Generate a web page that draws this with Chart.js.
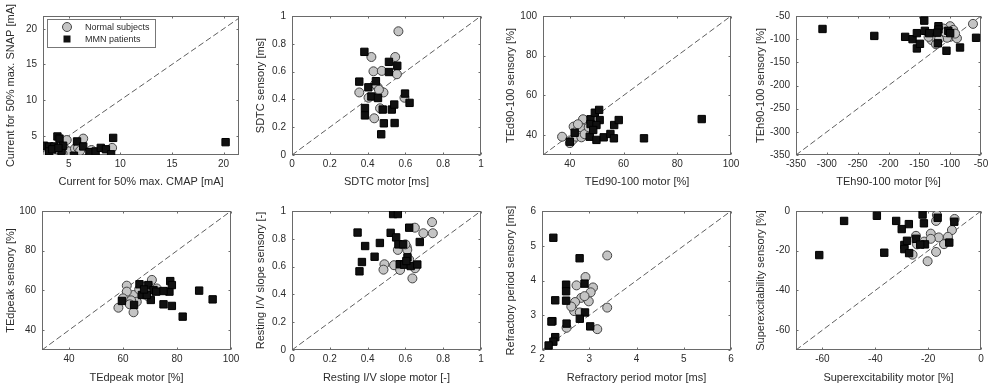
<!DOCTYPE html>
<html>
<head>
<meta charset="utf-8">
<script src="https://cdn.jsdelivr.net/npm/chart.js@4.4.1/dist/chart.umd.min.js"></script>
<style>
  html, body { margin: 0; padding: 0; background: #fff; }
  #fig { position: relative; width: 999px; height: 391px; overflow: hidden; }
  #fig canvas { position: absolute; }
</style>
</head>
<body>
<div id="fig"></div>
<script>
// --- data: [motor, sensory] pairs ---
const seriesNames = ['Normal subjects', 'MMN patients']

const currentNormal = [[2.9,2.4],[3.2,2.35],[3.5,2.6],[4.2,2.8],[4.8,4.4],[4.6,3.2],[5.0,2.8],[5.6,3.2],[5.9,3.3],[6.4,4.6],[6.1,2.9],[7.2,3.0],[9.2,3.3],[3.8,3.1],[4.4,2.5]]
const currentMmn = [[2.6,3.6],[3.9,4.9],[4.1,4.6],[3.1,3.5],[3.6,3.5],[4.3,2.9],[4.45,3.6],[3.1,2.8],[3.4,3.1],[5.5,2.2],[5.8,4.2],[6.4,3.5],[7.0,2.7],[7.6,2.8],[8.1,3.3],[8.6,3.1],[9.1,2.4],[9.3,4.7],[20.2,4.1],[4.0,3.3]]

const sdtcNormal = [[0.563,0.89],[0.42,0.705],[0.546,0.705],[0.431,0.602],[0.475,0.605],[0.555,0.581],[0.356,0.45],[0.454,0.486],[0.484,0.45],[0.405,0.412],[0.595,0.412],[0.466,0.336],[0.435,0.264],[0.44,0.51],[0.46,0.47]]
const sdtcMmn = [[0.383,0.742],[0.513,0.67],[0.557,0.642],[0.513,0.597],[0.356,0.528],[0.444,0.531],[0.404,0.487],[0.42,0.421],[0.455,0.41],[0.386,0.338],[0.386,0.285],[0.48,0.327],[0.528,0.327],[0.541,0.363],[0.598,0.442],[0.622,0.375],[0.486,0.228],[0.543,0.23],[0.472,0.149]]

const ted90Normal = [[37.1,39.2],[40,36],[41,37.6],[41.4,44.3],[42.7,42.3],[42.4,39.2],[43.7,41.2],[44.3,38.9],[45.9,45.9],[44.9,48],[46.5,42],[44,44],[45.5,40.5],[43,45.5],[47,44]]
const ted90Mmn = [[40,36.7],[41.8,41.2],[47.7,48],[47.7,45.6],[49.3,51.3],[50.9,52.7],[51.1,47.6],[49.9,45.1],[47.4,39.2],[49.9,37.6],[52.6,38.9],[55.1,40.6],[56.4,38.4],[56.5,45.1],[58.2,47.6],[67.6,38.4],[89.1,48.1],[48.7,42.6]]

const teh90Normal = [[-63,-67],[-100,-72],[-111,-77],[-95,-80],[-113,-87],[-130,-102],[-123,-111],[-100,-95],[-89,-98],[-105,-97],[-124,-95],[-118,-100],[-108,-85],[-135,-95],[-92,-88]]
const teh90Mmn = [[-307,-78],[-223,-93],[-173,-95],[-161,-100],[-154,-120],[-142,-60],[-154,-87],[-141,-82],[-134,-87],[-119,-72],[-119,-79],[-121,-86],[-120,-109],[-149,-110],[-103,-82],[-100,-87],[-106,-125],[-84,-118],[-58,-97]]

const tedPeakNormal = [[61.4,62.4],[58.3,51.3],[63.9,49],[63.9,57.7],[61.4,59.4],[70.7,65.3],[67.6,59.4],[69.4,56.9],[65.1,54.3],[72.5,61],[60,56],[66,60.5],[63,55],[68.5,62],[62.5,53]]
const tedPeakMmn = [[59.6,54.7],[64.1,52.7],[66.1,63.1],[69.4,62.7],[71.3,60.2],[70.3,55.2],[67,57.7],[68.8,57.7],[72.3,59.4],[75,53],[77.2,59.4],[77.5,64.7],[78.1,62.7],[75,59.7],[78.1,52.2],[82.1,46.8],[88.2,59.9],[93.2,55.5],[67.8,60.5]]

const ivSlopeNormal = [[0.741,0.92],[0.65,0.88],[0.695,0.84],[0.745,0.84],[0.607,0.74],[0.56,0.72],[0.61,0.72],[0.54,0.61],[0.489,0.617],[0.484,0.578],[0.572,0.576],[0.637,0.515],[0.651,0.588],[0.6,0.76],[0.62,0.65]]
const ivSlopeMmn = [[0.535,0.978],[0.56,0.978],[0.347,0.845],[0.522,0.843],[0.62,0.88],[0.551,0.81],[0.387,0.748],[0.465,0.77],[0.563,0.76],[0.588,0.76],[0.676,0.777],[0.437,0.671],[0.611,0.667],[0.37,0.633],[0.357,0.566],[0.57,0.617],[0.593,0.614],[0.628,0.604],[0.663,0.615],[0.605,0.64]]

const refractNormal = [[3.38,4.72],[2.92,4.1],[2.73,3.86],[3.08,3.8],[3.03,3.66],[2.83,3.5],[2.7,3.38],[2.99,3.4],[2.68,3.12],[2.8,3.08],[3.38,3.22],[2.52,2.64],[3.17,2.6],[2.9,3.55],[2.62,3.25]]
const refractMmn = [[2.24,5.23],[2.796,4.64],[2.51,3.88],[2.51,3.69],[2.9,3.91],[2.28,3.43],[2.51,3.42],[2.91,3.08],[2.8,2.9],[2.22,2.83],[2.52,2.76],[3.02,2.68],[2.28,2.37],[2.24,2.24],[2.14,2.13],[2.2,2.82]]

const superNormal = [[-16.7,-2],[-17,-5],[-10,-4],[-11,-9.6],[-19,-11.4],[-24.6,-12.5],[-16,-13.3],[-24.2,-16.8],[-14,-16.7],[-17,-20.6],[-20.2,-25.3],[-25.9,-22],[-21.5,-15.4],[-19,-14],[-12.5,-13]]
const superMmn = [[-51.8,-5],[-39.4,-2.4],[-32.1,-5],[-27.3,-6.6],[-30,-9.1],[-22.1,-1.8],[-21.6,-6.2],[-16.4,-3.4],[-10.1,-5.4],[-61.2,-22.2],[-36.6,-21],[-29,-17.1],[-29,-19.2],[-27.2,-21.2],[-24.6,-14],[-21.2,-16.8],[-23,-16.9],[-12,-15.9],[-28,-15]]

// axis limits and tick labels
const currentXRange = [2.5, 21.5], currentYRange = [2.3, 21.8], currentTicks = [5, 10, 15, 20]
const unitRange = [0, 1], unitTicks = [0, 0.2, 0.4, 0.6, 0.8, 1]
const pctRange = [30, 100], pctTicks = [40, 60, 80, 100]
const tehRange = [-350, -50], tehTicks = [-350, -300, -250, -200, -150, -100, -50]
const refractRange = [2, 6], refractTicks = [2, 3, 4, 5, 6]
const superRange = [-70, 0], superTicks = [-60, -40, -20, 0]

const panels = [
  { normal: currentNormal, mmn: currentMmn, xr: currentXRange, yr: currentYRange, xt: currentTicks, yt: currentTicks,
    xTitle: 'Current for 50% max. CMAP [mA]', yTitle: 'Current for 50% max. SNAP [mA]', legend: true },
  { normal: sdtcNormal, mmn: sdtcMmn, xr: unitRange, yr: unitRange, xt: unitTicks, yt: unitTicks,
    xTitle: 'SDTC motor [ms]', yTitle: 'SDTC sensory [ms]' },
  { normal: ted90Normal, mmn: ted90Mmn, xr: pctRange, yr: pctRange, xt: pctTicks, yt: pctTicks,
    xTitle: 'TEd90-100 motor [%]', yTitle: 'TEd90-100 sensory [%]' },
  { normal: teh90Normal, mmn: teh90Mmn, xr: tehRange, yr: tehRange, xt: tehTicks, yt: tehTicks,
    xTitle: 'TEh90-100 motor [%]', yTitle: 'TEh90-100 sensory [%]' },
  { normal: tedPeakNormal, mmn: tedPeakMmn, xr: pctRange, yr: pctRange, xt: pctTicks, yt: pctTicks,
    xTitle: 'TEdpeak motor [%]', yTitle: 'TEdpeak sensory [%]' },
  { normal: ivSlopeNormal, mmn: ivSlopeMmn, xr: unitRange, yr: unitRange, xt: unitTicks, yt: unitTicks,
    xTitle: 'Resting I/V slope motor [-]', yTitle: 'Resting I/V slope sensory [-]' },
  { normal: refractNormal, mmn: refractMmn, xr: refractRange, yr: refractRange, xt: refractTicks, yt: refractTicks,
    xTitle: 'Refractory period motor [ms]', yTitle: 'Refractory period sensory [ms]' },
  { normal: superNormal, mmn: superMmn, xr: superRange, yr: superRange, xt: superTicks, yt: superTicks,
    xTitle: 'Superexcitability motor [%]', yTitle: 'Superexcitability sensory [%]' }
]

// where each small chart sits on the page
const cellX = [0, 250, 500, 750], cellW = [250, 250, 250, 249]
const plotLeft = [43, 42, 43, 46, 42, 42, 42, 46]
const plotRight = [239, 231, 231, 231, 231, 231, 231, 231]

const FONT = "'Liberation Sans', Arial, Helvetica, sans-serif"
const TEXT = '#2b2b2b'

const framePlugin = {
  id: 'frame',
  beforeDatasetsDraw(chart) {
    const { ctx, chartArea: a, scales } = chart
    const l = Math.round(a.left) + 0.5, r = Math.round(a.right) - 0.5
    const t = Math.round(a.top) + 0.5, b = Math.round(a.bottom) - 0.5
    ctx.save()
    ctx.strokeStyle = '#6a6a6a'
    ctx.lineWidth = 1
    ctx.strokeRect(l, t, r - l, b - t)
    ctx.beginPath()
    scales.x.ticks.forEach(tk => {
      const px = Math.round(scales.x.getPixelForValue(tk.value)) + 0.5
      ctx.moveTo(px, b); ctx.lineTo(px, b - 2)
      ctx.moveTo(px, t); ctx.lineTo(px, t + 2)
    })
    scales.y.ticks.forEach(tk => {
      const py = Math.round(scales.y.getPixelForValue(tk.value)) + 0.5
      ctx.moveTo(l, py); ctx.lineTo(l + 2, py)
      ctx.moveTo(r, py); ctx.lineTo(r - 2, py)
    })
    ctx.stroke()
    ctx.restore()
  }
}

const legendPlugin = {
  id: 'innerLegend',
  afterDatasetsDraw(chart, args, opts) {
    if (!opts.show) return
    const { ctx, chartArea: a } = chart
    const x0 = a.left + 4, y0 = a.top + 3
    ctx.save()
    ctx.fillStyle = '#fff'
    ctx.strokeStyle = '#777'
    ctx.lineWidth = 1
    ctx.fillRect(x0, y0, 108, 28)
    ctx.strokeRect(x0 + 0.5, y0 + 0.5, 108, 28)
    ctx.font = '9px ' + FONT
    ctx.textBaseline = 'middle'
    // gray circle
    ctx.beginPath()
    ctx.arc(x0 + 20, y0 + 8, 4.5, 0, Math.PI * 2)
    ctx.fillStyle = '#c4c4c4'
    ctx.fill()
    ctx.strokeStyle = '#444'
    ctx.stroke()
    // black square
    ctx.fillStyle = '#111'
    ctx.fillRect(x0 + 16.5, y0 + 16.5, 7, 7)
    ctx.fillStyle = TEXT
    ctx.fillText(seriesNames[0], x0 + 38, y0 + 8.5)
    ctx.fillText(seriesNames[1], x0 + 38, y0 + 20.5)
    ctx.restore()
  }
}

const fig = document.getElementById('fig')

panels.forEach((p, i) => {
  const col = i % 4, row = Math.floor(i / 4)
  const w = cellW[col], h = row === 0 ? 195 : 196
  const canvas = document.createElement('canvas')
  canvas.width = w
  canvas.height = h
  canvas.style.left = cellX[col] + 'px'
  canvas.style.top = (row === 0 ? 0 : 195) + 'px'
  fig.appendChild(canvas)

  const lo = Math.max(p.xr[0], p.yr[0]), hi = Math.min(p.xr[1], p.yr[1])
  const left = plotLeft[i], right = plotRight[i]

  new Chart(canvas.getContext('2d'), {
    type: 'scatter',
    data: {
      datasets: [
        {
          label: seriesNames[1],
          data: p.mmn.map(d => ({ x: d[0], y: d[1] })),
          pointStyle: 'rect',
          pointRadius: 5.2,
          backgroundColor: '#111',
          borderColor: '#000',
          borderWidth: 1,
          order: 1
        },
        {
          label: seriesNames[0],
          data: p.normal.map(d => ({ x: d[0], y: d[1] })),
          pointStyle: 'circle',
          pointRadius: 4.5,
          backgroundColor: '#c4c4c4',
          borderColor: '#444',
          borderWidth: 1,
          order: 2
        },
        {
          type: 'line',
          label: 'identity',
          data: [{ x: lo, y: lo }, { x: hi, y: hi }],
          borderColor: '#5e5e5e',
          borderWidth: 1,
          borderDash: [6, 3],
          pointRadius: 0,
          fill: false,
          order: 3
        }
      ]
    },
    options: {
      responsive: false,
      animation: false,
      devicePixelRatio: 1,
      layout: {
        padding: { left: 0, top: 16, right: w - right, bottom: 0 }
      },
      plugins: {
        legend: { display: false },
        tooltip: { enabled: false },
        innerLegend: { show: !!p.legend }
      },
      scales: {
        x: {
          type: 'linear',
          min: p.xr[0],
          max: p.xr[1],
          afterBuildTicks: s => { s.ticks = p.xt.map(v => ({ value: v })) },
          afterFit: s => {
            s.height = h - 155
            s.paddingLeft = s.paddingRight = s.paddingTop = s.paddingBottom = 0
          },
          grid: { display: false, drawTicks: false },
          border: { display: false },
          ticks: {
            padding: 3,
            maxRotation: 0,
            color: TEXT,
            font: { family: FONT, size: 10 },
            callback: v => String(v)
          },
          title: {
            display: true,
            text: p.xTitle,
            color: TEXT,
            font: { family: FONT, size: 11 },
            padding: { top: 0, bottom: 6 }
          }
        },
        y: {
          type: 'linear',
          min: p.yr[0],
          max: p.yr[1],
          afterBuildTicks: s => { s.ticks = p.yt.map(v => ({ value: v })) },
          afterFit: s => {
            s.width = left
            s.paddingLeft = s.paddingRight = s.paddingTop = s.paddingBottom = 0
          },
          grid: { display: false, drawTicks: false },
          border: { display: false },
          ticks: {
            padding: 6,
            color: TEXT,
            font: { family: FONT, size: 10 },
            callback: v => String(v)
          },
          title: {
            display: true,
            text: p.yTitle,
            color: TEXT,
            font: { family: FONT, size: 11 },
            padding: { top: 4, bottom: 0 }
          }
        }
      }
    },
    plugins: [framePlugin, legendPlugin]
  })
})
</script>
</body>
</html>
